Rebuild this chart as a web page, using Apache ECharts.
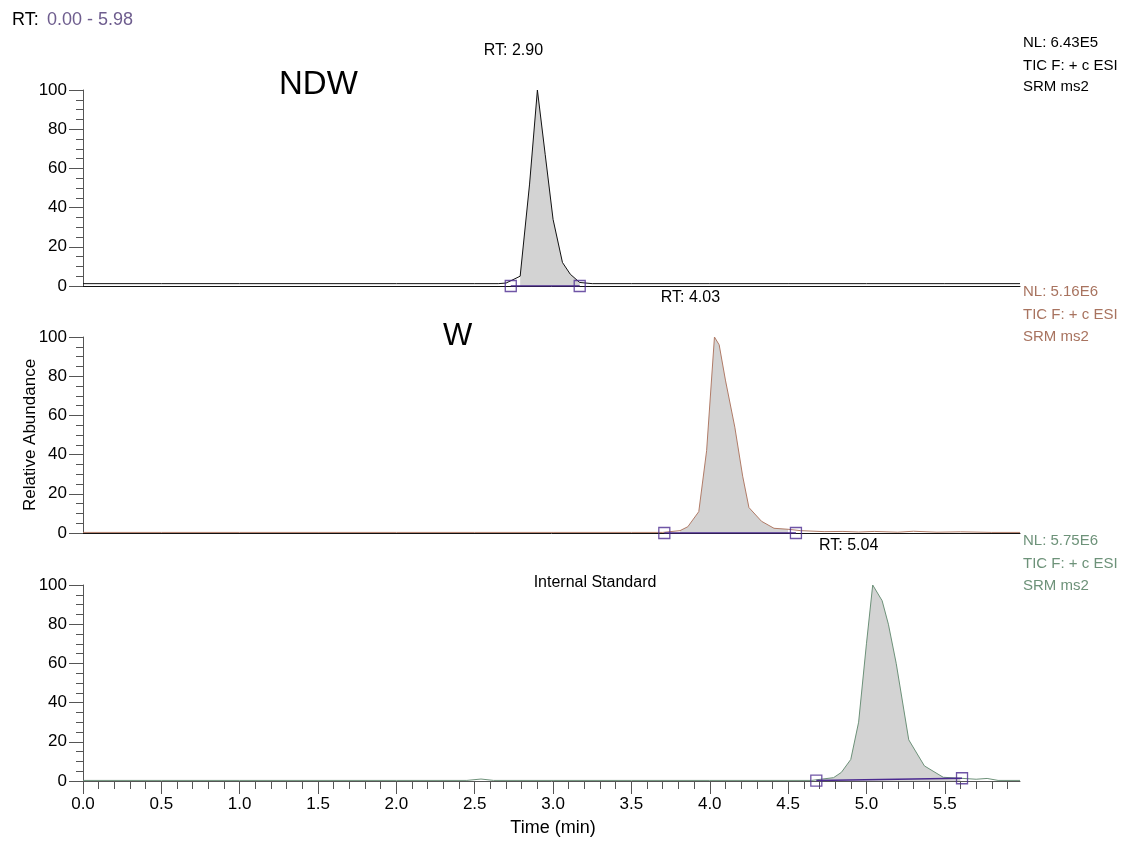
<!DOCTYPE html>
<html><head><meta charset="utf-8">
<script src="https://cdn.jsdelivr.net/npm/echarts@6/dist/echarts.min.js"></script>
<style>html,body{margin:0;padding:0;background:#fff}#c{width:1129px;height:841px}</style>
</head><body><div id="c"></div>
<script>
// ---- data ----
const ndwTime = [0.00, 0.50, 1.00, 1.50, 2.00, 2.50, 2.65, 2.70, 2.79, 2.85, 2.90, 2.95, 3.00, 3.06, 3.11, 3.17, 3.25, 3.50, 4.00, 4.50, 5.00, 5.50, 5.98];
const ndwVal  = [1.2, 1.2, 1.2, 1.2, 1.2, 1.2, 1.2, 1.5, 5.0, 52, 100, 67, 34, 12, 6.0, 1.8, 1.2, 1.2, 1.2, 1.2, 1.2, 1.2, 1.2];
const wTime = [0.00, 0.50, 1.00, 1.50, 2.00, 2.50, 3.00, 3.50, 3.70, 3.81, 3.86, 3.93, 3.98, 4.03, 4.06, 4.10, 4.16, 4.21, 4.25, 4.33, 4.41, 4.50, 4.58, 4.73, 4.85, 4.95, 5.05, 5.20, 5.30, 5.45, 5.60, 5.80, 5.98];
const wVal  = [0.3, 0.3, 0.3, 0.3, 0.3, 0.3, 0.3, 0.3, 0.3, 1.2, 3.2, 10.9, 42, 100, 96, 78, 54, 29, 13, 6.0, 2.4, 1.9, 1.2, 0.7, 0.8, 0.5, 0.8, 0.4, 0.9, 0.4, 0.6, 0.3, 0.3];
const isTime = [0.00, 0.50, 1.00, 1.50, 2.00, 2.45, 2.54, 2.62, 3.00, 3.50, 4.00, 4.50, 4.65, 4.72, 4.79, 4.84, 4.90, 4.95, 5.00, 5.04, 5.10, 5.14, 5.19, 5.27, 5.37, 5.49, 5.60, 5.70, 5.77, 5.84, 5.98];
const isVal  = [0.3, 0.3, 0.3, 0.3, 0.3, 0.3, 1.0, 0.3, 0.3, 0.3, 0.3, 0.3, 0.3, 1.0, 1.7, 4.4, 11, 30, 70, 100, 92, 80, 60, 21, 7.7, 1.9, 1.4, 0.9, 1.3, 0.3, 0.3];
const ndwMarkTime = [2.73, 3.17], ndwMarkVal = [0, 0];
const wMarkTime = [3.71, 4.55],  wMarkVal = [0, 0];
const isMarkTime = [4.68, 5.61], isMarkVal = [0.2, 1.4];
const peakRT = ['2.90', '4.03', '5.04'];
const panelTitles = ['NDW', 'W', 'Internal Standard'];
const nlLabels = ['NL: 6.43E5', 'NL: 5.16E6', 'NL: 5.75E6'];
const scanLabel1 = 'TIC F: + c ESI', scanLabel2 = 'SRM ms2';
const xMajorTicks = [0.0, 0.5, 1.0, 1.5, 2.0, 2.5, 3.0, 3.5, 4.0, 4.5, 5.0, 5.5];
const yTicks = [0, 20, 40, 60, 80, 100];
const xMin = 0, xMax = 5.98;

// ---- build ----
const FONT = '"Liberation Sans", Arial, Helvetica, sans-serif';
const zip = (a, b) => a.map((v, i) => [v, b[i]]);
const panels = [
  {t: ndwTime, v: ndwVal, mt: ndwMarkTime, mv: ndwMarkVal, color: '#111111', text: '#000000'},
  {t: wTime, v: wVal, mt: wMarkTime, mv: wMarkVal, color: '#b07b67', text: '#a8735f'},
  {t: isTime, v: isVal, mt: isMarkTime, mv: isMarkVal, color: '#6c9078', text: '#6d9279'}
];
const tops = [90, 337, 585], H = 196, L = 83, W = 937;
const xMinor = [];
for (let k = 1; k < 60; k++) { if (k % 5 !== 0) xMinor.push(+(k / 10).toFixed(1)); }

const grid = tops.map(t => ({left: L, top: t, width: W, height: H}));
const xAxis = [], yAxis = [], series = [];
panels.forEach((p, i) => {
  const last = i === 2;
  xAxis.push({
    gridIndex: i, type: 'value', position: 'bottom', min: xMin, max: xMax,
    axisLine: {show: true, onZero: false, lineStyle: {color: last ? '#555' : '#111', width: 1}},
    axisTick: last ? {show: true, length: 13, customValues: xMajorTicks, lineStyle: {color: '#555'}} : {show: false},
    axisLabel: last ? {show: true, customValues: xMajorTicks, formatter: v => v.toFixed(1), fontSize: 17, color: '#000', margin: 15, fontFamily: FONT} : {show: false},
    splitLine: {show: false}
  });
  yAxis.push({
    gridIndex: i, type: 'value', min: yTicks[0], max: yTicks[yTicks.length - 1], interval: yTicks[1] - yTicks[0],
    axisLine: {show: true, lineStyle: {color: '#555', width: 1}},
    axisTick: {show: true, length: 14, lineStyle: {color: '#555'}},
    minorTick: {show: true, splitNumber: 4, length: 7, lineStyle: {color: '#555'}},
    axisLabel: {fontSize: 17, color: '#000', margin: 16, fontFamily: FONT},
    splitLine: {show: false}
  });
  const data = zip(p.t, p.v);
  series.push({
    type: 'line', xAxisIndex: i, yAxisIndex: i, data: data.filter(d => d[0] >= p.mt[0] && d[0] <= p.mt[1]),
    showSymbol: false, lineStyle: {width: 0, opacity: 0}, areaStyle: {color: '#d3d3d3', opacity: 1}, z: 2, silent: true
  });
  series.push({
    type: 'line', xAxisIndex: i, yAxisIndex: i, data: data,
    showSymbol: false, lineStyle: {color: p.color, width: 1}, z: 3, silent: true
  });
  series.push({
    type: 'line', xAxisIndex: i, yAxisIndex: i, data: zip(p.mt, p.mv),
    showSymbol: false, lineStyle: {color: '#4b2a90', width: 1.5}, z: 4, silent: true
  });
  series.push({
    type: 'scatter', xAxisIndex: i, yAxisIndex: i, data: zip(p.mt, p.mv),
    symbol: 'rect', symbolSize: 11, itemStyle: {color: 'rgba(0,0,0,0)', borderColor: '#4b2a90', borderWidth: 1.3}, z: 5, silent: true
  });
});
// minor ticks axis on bottom panel
xAxis.push({
  gridIndex: 2, type: 'value', position: 'bottom', min: xMin, max: xMax,
  axisLine: {show: false, onZero: false}, axisTick: {show: true, inside: false, length: 8, customValues: xMinor, lineStyle: {color: '#555'}},
  axisLabel: {show: false}, splitLine: {show: false}
});

const chart = echarts.init(document.getElementById('c'), null, {renderer: 'canvas'});
chart.setOption({animation: false, backgroundColor: '#fff', grid, xAxis, yAxis, series});

const txt = (x, y, text, size, fill, align, extra) => Object.assign({
  type: 'text', x, y, silent: true,
  style: {text, fill, font: size + 'px ' + FONT, align: align || 'left', verticalAlign: 'middle'}
}, extra || {});
const g = [];
g.push(txt(12, 20, 'RT:', 18, '#000'));
g.push(txt(47, 20, xMin.toFixed(2) + ' - ' + xMax.toFixed(2), 18, '#6e5d8e'));
const nlY = [[43, 66, 87], [292, 315, 337], [541, 564, 586]];
panels.forEach((p, i) => {
  const peakIdx = p.v.indexOf(Math.max(...p.v));
  const pk = chart.convertToPixel({gridIndex: i}, [p.t[peakIdx], 100]);
  g.push(txt(pk[0] - 24, tops[i] - 39, 'RT: ' + peakRT[i], 16, '#000', 'center'));
  g.push(txt(1023, nlY[i][0], nlLabels[i], 15, p.text));
  g.push(txt(1023, nlY[i][1], scanLabel1, 15, p.text));
  g.push(txt(1023, nlY[i][2], scanLabel2, 15, p.text));
});
g.push(txt(279, 85, panelTitles[0], 33, '#000'));
g.push(txt(443, 336, panelTitles[1], 31, '#000'));
g.push(txt(595, 583, panelTitles[2], 16, '#000', 'center'));
g.push(txt(553, 828, 'Time (min)', 18, '#000', 'center'));
g.push(txt(30, 435, 'Relative Abundance', 17, '#000', 'center', {rotation: Math.PI / 2}));
chart.setOption({graphic: g});
</script></body></html>
